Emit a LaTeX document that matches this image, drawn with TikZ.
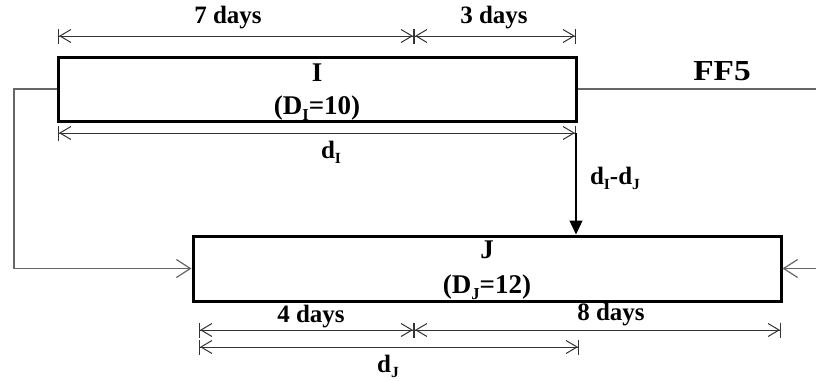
\documentclass[tikz,border=0pt]{standalone}
\usepackage{fontspec}
\setmainfont{Liberation Serif}
\usetikzlibrary{arrows.meta}
\newcommand{\lowsub}[1]{\raisebox{-0.45ex}{\scalebox{0.62}{#1}}}
\begin{document}
\begin{tikzpicture}[x=1pt,y=-1pt,
  activity/.style={draw=black,line width=3pt,inner sep=0pt},
  boxtext/.style={inner sep=0pt,align=center,font=\bfseries\fontsize{27}{#1}\selectfont},
  lbl/.style={inner sep=0pt,font=\bfseries\fontsize{25}{25}\selectfont},
  dim/.style={draw=black!80,line width=1pt,
    {Bar[width=15pt,line width=1pt]Straight Barb[length=11pt,width=13pt,line width=1pt]}-{Straight Barb[length=11pt,width=13pt,line width=1pt]Bar[width=15pt,line width=1pt]}},
  link/.style={draw=black!60,line width=1.4pt},
  openarr/.style={-{Straight Barb[length=14pt,width=18pt,line width=1.2pt]}},
  fillarr/.style={-{Triangle[length=14pt,width=13pt]}}]
\useasboundingbox (0,0) rectangle (816,381);
% activity boxes
\node[activity,minimum width=518pt,minimum height=64pt] (I) at (317,89) {};
\node[activity,minimum width=588pt,minimum height=65pt] (J) at (487,268.5) {};
\node[boxtext=33] (Itxt) at (317,92) {I\\(D\lowsub{I}=10)};
\node[boxtext=35] (Jtxt) at (487,270.5) {J\\(D\lowsub{J}=12)};
% coordinates for dimension lines
\coordinate (t1) at (58,36);
\coordinate (t2) at (414,36);
\coordinate (t3) at (576,36);
\coordinate (dI1) at (58,133);
\coordinate (dI2) at (576,133);
\coordinate (b1) at (199,330);
\coordinate (b2) at (414,330);
\coordinate (b3) at (781,330);
\coordinate (dJ1) at (199,347);
\coordinate (dJ2) at (579,347);
\coordinate (ffend) at (816,89);
\coordinate (rstart) at (816,268.5);
\coordinate (lc1) at (14,89);
\coordinate (lc2) at (14,268.5);
% dimension lines
\draw[dim] (t1) -- (t2);
\draw[dim] (t2) -- (t3);
\draw[dim] (dI1) -- (dI2);
\draw[dim] (b1) -- (b2);
\draw[dim] (b2) -- (b3);
\draw[dim] (dJ1) -- (dJ2);
% labels
\node[lbl] (l7) at (228,18) {7 days};
\node[lbl] (l3) at (494,18) {3 days};
\node[lbl] (ldI) at (331,152) {d\lowsub{I}};
\node[lbl] (ldd) at (615,178) {d\lowsub{I}-d\lowsub{J}};
\node[lbl] (l4) at (311,317) {4 days};
\node[lbl] (l8) at (611,315) {8 days};
\node[lbl] (ldJ) at (388,366) {d\lowsub{J}};
\node[lbl,font=\bfseries\fontsize{29}{29}\selectfont] (lff) at (722,71) {\scalebox{1.15}[1]{FF5}};
% connectors
\draw[link] (I.east) -- (ffend);
\draw[link,openarr] (I.west) -- (lc1) -- (lc2) -- (J.west);
\draw[link,openarr] (rstart) -- (J.east);
\draw[black,line width=1.2pt,fillarr] (dI2) -- (dI2 |- J.north);
\end{tikzpicture}
\end{document}
